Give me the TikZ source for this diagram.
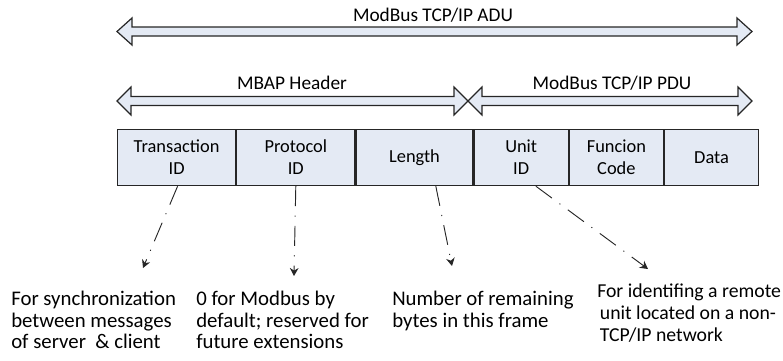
\documentclass[tikz,border=0pt]{standalone}
\usepackage{fontspec}
\setmainfont{Carlito}
\usetikzlibrary{arrows.meta}
\definecolor{cellfill}{HTML}{E4EAF4}
\definecolor{edge}{HTML}{262626}
\begin{document}
\begin{tikzpicture}[x=0.75pt,y=-0.75pt,
  every node/.style={inner sep=0pt},
  cellbox/.style={draw=edge, line width=0.9pt, fill=cellfill, minimum height=42pt, align=center,
    font=\fontsize{13.8}{16.5}\selectfont},
  band/.style={draw=edge, line width=0.9pt, fill=cellfill, line join=miter},
  bandlabel/.style={font=\fontsize{14.5}{16.5}\selectfont},
  note/.style={align=left, anchor=north west, font=\fontsize{15.6}{16.2}\selectfont},
  pointer/.style={draw=edge, line width=0.7pt, dash pattern=on 15pt off 7pt on 0.8pt off 7pt, -{Stealth[length=6pt,width=6.5pt]}}
]
\useasboundingbox (0,0) rectangle (783,361);

% double arrow bands
\draw[band] (117,31.5) -- (132,18) -- (132,27) -- (737,27) -- (737,18) -- (752,31.5)
  -- (737,45) -- (737,36) -- (132,36) -- (132,45) -- cycle;
\draw[band] (117,101) -- (131,87) -- (131,96.5) -- (454,96.5) -- (454,87) -- (468,101)
  -- (454,115) -- (454,105.5) -- (131,105.5) -- (131,115) -- cycle;
\draw[band] (468,101) -- (482,87) -- (482,96.5) -- (738,96.5) -- (738,87) -- (752,101)
  -- (738,115) -- (738,105.5) -- (482,105.5) -- (482,115) -- cycle;

\node[bandlabel] (adu) at (433,15) {ModBus TCP/IP ADU};
\node[bandlabel] (mbap) at (292,83) {MBAP Header};
\node[bandlabel] (pdu) at (612,83) {ModBus TCP/IP PDU};

% frame fields
\node[cellbox, minimum width=88.5pt, anchor=north west] (tid) at (117,129) {Transaction\\ID};
\node[cellbox, minimum width=88.5pt, anchor=north west] (pid) at (tid.north east) {Protocol\\ID};
\node[cellbox, minimum width=87.75pt, anchor=north west] (len) at (pid.north east) {Length};
\node[cellbox, minimum width=70.5pt, anchor=north west] (uid) at (len.north east) {Unit\\ID};
\node[cellbox, minimum width=70.5pt, anchor=north west] (fc) at (uid.north east) {Funcion\\Code};
\node[cellbox, minimum width=70.5pt, anchor=north west] (data) at (fc.north east) {Data};

% descriptions
\node[note] (n1) at (11,291) {For synchronization\\between messages\\of server\ \ \& client};
\node[note] (n2) at (196,291) {0 for Modbus by\\default; reserved for\\future extensions};
\node[note] (n3) at (392,291) {Number of remaining\\bytes in this frame};
\node[note, font=\fontsize{14.8}{16.2}\selectfont] (n4) at (597,284)
  {For identifing a remote\\\hspace*{2pt}unit located on a non-\\\hspace*{2pt}TCP/IP network};

\coordinate (t1) at (143,268);
\coordinate (t2) at (294,276);
\coordinate (t3) at (452,266);
\coordinate (t4) at (648,269);
\draw[pointer] ([xshift=0.75pt]tid.south) -- (t1);
\draw[pointer] (pid.south) -- (t2);
\draw[pointer] ([xshift=16pt]len.south) -- (t3);
\draw[pointer] ([xshift=11pt]uid.south) -- (t4);
\end{tikzpicture}
\end{document}
